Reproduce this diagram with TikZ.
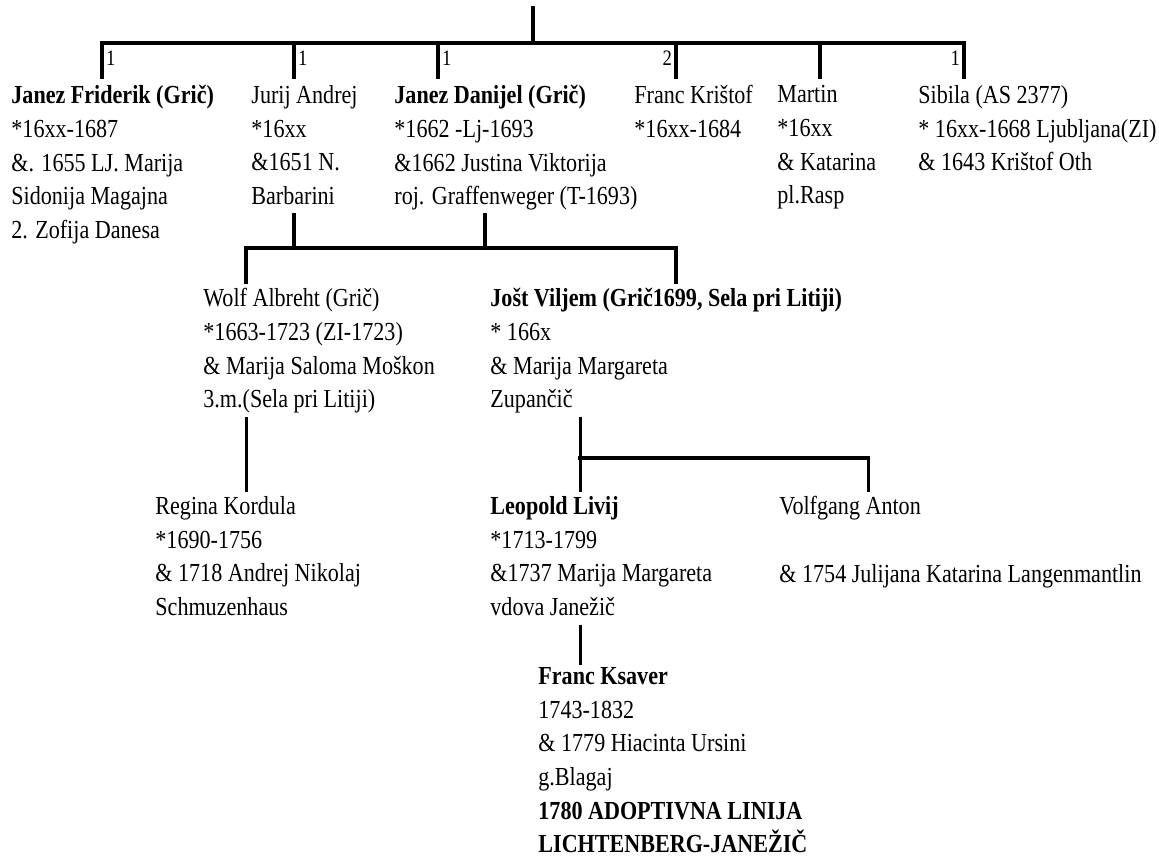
\documentclass[tikz,border=0pt]{standalone}
\usepackage{fontspec}
\setmainfont{Liberation Serif}[FakeStretch=0.85]
\tikzset{
  oseba/.style={anchor=north west, inner sep=0pt, align=left,
    font=\fontsize{13}{16.85}\selectfont,
    execute at begin node=\strut, execute at end node=\strut},
  crta/.style={line width=2pt, line cap=rect},
  tanka/.style={line width=1.5pt, line cap=rect},
  stev/.style={inner sep=1pt, font=\fontsize{11}{12}\selectfont},
}
\begin{document}
\begin{tikzpicture}[x=0.5pt, y=-0.5pt, line join=miter]
  \useasboundingbox (0,0) rectangle (1159,863);
  % prva generacija
  \node[oseba] (jf) at (11,85) {\textbf{Janez Friderik (Grič)}\\{*}16xx-1687\\\&. 1655 LJ. Marija\\Sidonija Magajna\\2. Zofija Danesa};
  \node[oseba] (ja) at (251,85) {Jurij Andrej\\{*}16xx\\\&1651 N.\\Barbarini};
  \node[oseba] (jd) at (394,85) {\textbf{Janez Danijel (Grič)}\\{*}1662 -Lj-1693\\\&1662 Justina Viktorija\\roj. Graffenweger (T-1693)};
  \node[oseba] (fk) at (634,85) {Franc Krištof\\{*}16xx-1684};
  \node[oseba] (mar) at (777,85) {Martin\\{*}16xx\\\& Katarina\\pl.Rasp};
  \node[oseba] (sib) at (918,85) {Sibila (AS 2377)\\{*} 16xx-1668 Ljubljana(ZI)\\\& 1643 Krištof Oth};
  % druga generacija
  \node[oseba] (wolf) at (203,288) {Wolf Albreht (Grič)\\{*}1663-1723 (ZI-1723)\\\& Marija Saloma Moškon\\3.m.(Sela pri Litiji)};
  \node[oseba] (jost) at (490,288) {\textbf{Jošt Viljem (Grič1699, Sela pri Litiji)}\\{*} 166x\\\& Marija Margareta\\Zupančič};
  % tretja generacija
  \node[oseba] (reg) at (155,496) {Regina Kordula\\{*}1690-1756\\\& 1718 Andrej Nikolaj\\Schmuzenhaus};
  \node[oseba] (leo) at (490,496) {\textbf{Leopold Livij}\\{*}1713-1799\\\&1737 Marija Margareta\\vdova Janežič};
  \node[oseba] (volf) at (779,496) {Volfgang Anton\\\mbox{}\\\& 1754 Julijana Katarina Langenmantlin};
  \node[oseba] (fx) at (538,667) {\textbf{Franc Ksaver}\\1743-1832\\\& 1779 Hiacinta Ursini\\g.Blagaj\\\textbf{1780 ADOPTIVNA LINIJA}\\\textbf{LICHTENBERG-JANEŽIČ}};
  % razvejitve
  \coordinate (vrh) at (533,8);
  \coordinate (t0) at (533,43);
  \coordinate (t1) at (102,43);
  \coordinate (t2) at (294,43);
  \coordinate (t3) at (438,43);
  \coordinate (t4) at (676,43);
  \coordinate (t5) at (820,43);
  \coordinate (t6) at (964,43);
  \coordinate (s1) at (294,248);
  \coordinate (s2) at (485,248);
  \coordinate (m1) at (246,248);
  \coordinate (m2) at (676,248);
  \coordinate (j1) at (580,458);
  \coordinate (j2) at (868,458);
  \draw[crta] (vrh) -- (t0);
  \draw[crta] (t1) -- (t6);
  \foreach \k/\n/\st/\stran in {t1/jf/1/right, t2/ja/1/right, t3/jd/1/right, t4/fk/2/left, t5/mar//right, t6/sib/1/left}
    \draw[crta] (\k) -- ([yshift=4pt]\k |- \n.north) node[stev, pos=0.45, \stran] {\st};
  \draw[crta] (ja.south -| s1) -- (s1);
  \draw[crta] (jd.south -| s2) -- (s2);
  \draw[crta] ([yshift=3pt]wolf.north -| m1) -- (m1) -- (m2) -- ([yshift=3pt]m2 |- jost.north);
  \draw[tanka] (wolf.south -| m1) -- ([yshift=3pt]reg.north -| m1);
  \draw[tanka] (jost.south -| j1) -- ([yshift=3pt]leo.north -| j1);
  \draw[crta] (j1) -- (j2);
  \draw[tanka] (j2) -- ([yshift=3pt]j2 |- volf.north);
  \draw[tanka] (leo.south -| j1) -- ([yshift=2pt]fx.north -| j1);
\end{tikzpicture}
\end{document}
